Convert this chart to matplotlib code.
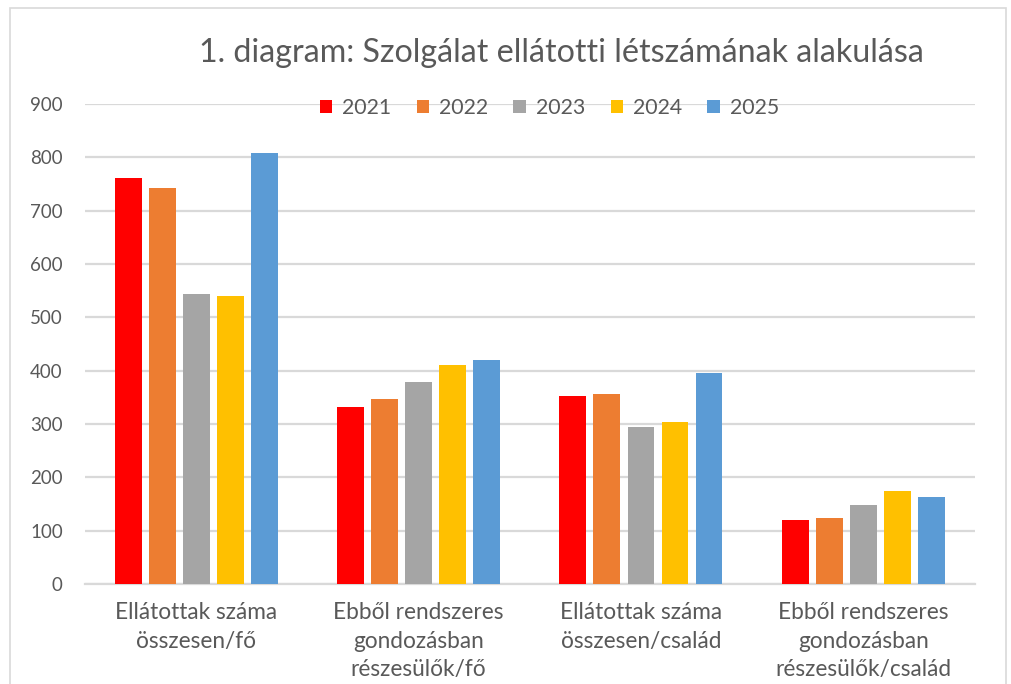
import numpy as np
import matplotlib
matplotlib.use("Agg")
import matplotlib.pyplot as plt
from matplotlib.patches import Rectangle

plt.rcParams["font.family"] = ["Lato", "DejaVu Sans"]

categories = [
    "Ellátottak száma\nösszesen/fő",
    "Ebből rendszeres\ngondozásban\nrészesülők/fő",
    "Ellátottak száma\nösszesen/család",
    "Ebből rendszeres\ngondozásban\nrészesülők/család",
]
years = ["2021", "2022", "2023", "2024", "2025"]
values = {
    "2021": [761, 332, 353, 120],
    "2022": [743, 347, 357, 124],
    "2023": [543, 379, 295, 149],
    "2024": [541, 411, 304, 174],
    "2025": [808, 421, 395, 163],
}
colors = ["#ff0000", "#ed7d31", "#a5a5a5", "#ffc000", "#5b9bd5"]

text_col = "#595959"
grid_col = "#d9d9d9"

fig = plt.figure(figsize=(10.11, 6.84), dpi=100)
ax = fig.add_axes([0.084, 0.146, 0.880, 0.702])

x = np.arange(len(categories))
pitch = 0.153
width = 0.121
for i, (yr, c) in enumerate(zip(years, colors)):
    ax.bar(x + (i - 2) * pitch, values[yr], width, color=c, label=yr, zorder=3)

ax.set_xlim(-0.5, len(categories) - 0.5)
ax.set_ylim(0, 900)
ax.set_yticks(range(0, 901, 100))
ax.yaxis.grid(True, color=grid_col, linewidth=1.6, zorder=0)
ax.set_axisbelow(True)
for s in ["top", "right", "left"]:
    ax.spines[s].set_visible(False)
ax.spines["bottom"].set_color(grid_col)
ax.spines["bottom"].set_linewidth(1.6)
ax.tick_params(axis="both", length=0, colors=text_col)
ax.tick_params(axis="y", pad=16, labelsize=13.5)
ax.tick_params(axis="x", pad=13)
ax.set_xticks(x)
ax.set_xticklabels(categories, linespacing=1.45, fontsize=16.3)

fig.text(0.555, 0.922, "1. diagram: Szolgálat ellátotti létszámának alakulása",
         ha="center", va="center", fontsize=23.2, color=text_col)

leg = ax.legend(loc="center", bbox_to_anchor=(0.522, 0.992), ncol=5, frameon=False,
                fontsize=15.3, handlelength=0.6, handleheight=0.6,
                handletextpad=0.45, columnspacing=1.2, labelcolor=text_col)

fig.patches.append(Rectangle((0.010, -0.05), 0.985, 1.038, transform=fig.transFigure,
                             fill=False, edgecolor="#d9d9d9", linewidth=1.2))

fig.savefig("out.png", dpi=100)
